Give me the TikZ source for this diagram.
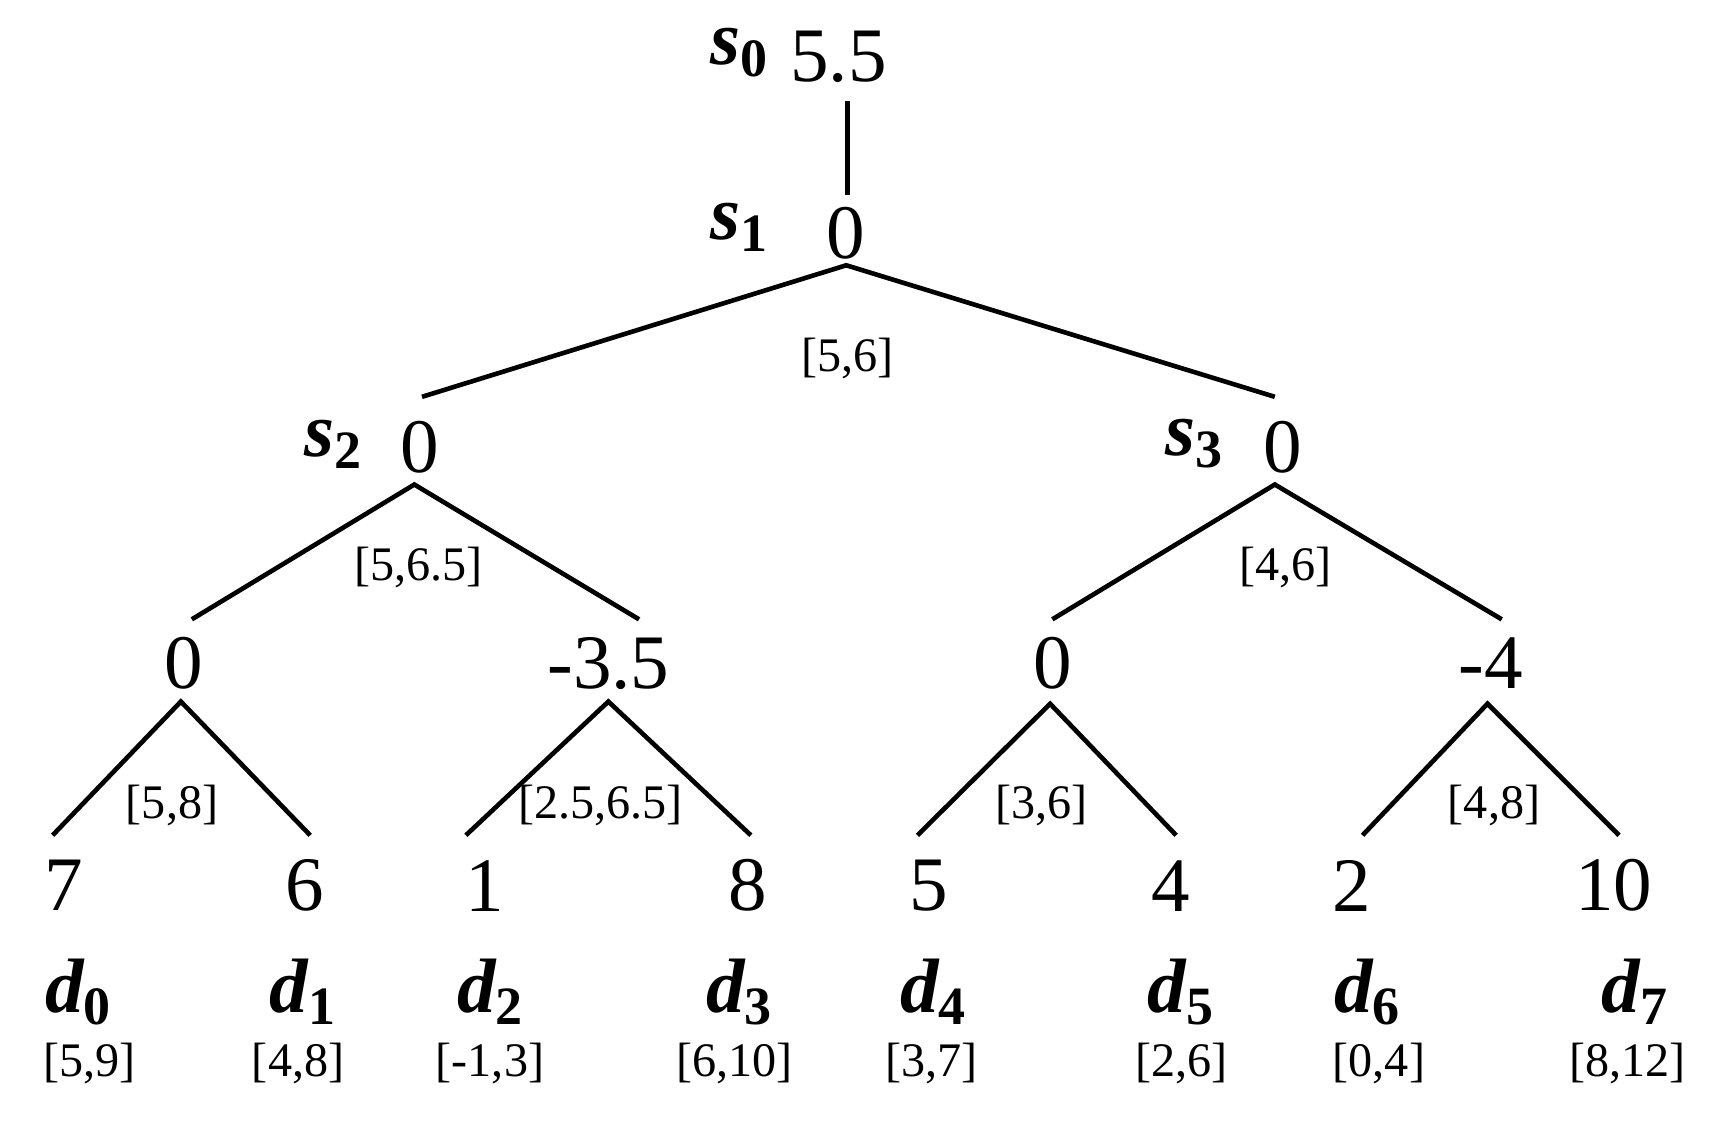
\documentclass[tikz,border=0pt]{standalone}
\usepackage{fontspec}
\setmainfont{Liberation Serif}
\begin{document}
\begin{tikzpicture}[x=0.01cm,y=-0.01cm,
  big/.style={inner sep=0pt,font=\fontsize{20}{22}\selectfont},
  lab/.style={inner sep=0pt,font=\fontsize{20}{22}\selectfont\bfseries\itshape},
  iv/.style={inner sep=0pt,font=\fontsize{12.5}{14}\selectfont},
  ln/.style={line width=1.2pt}]
\useasboundingbox (0,0) rectangle (1560,1026);
% root
\node[lab] (ls0) at (675,48) {s$_{\mathbf 0}$};
\node[big] (n0) at (765,52) {5.5};
\coordinate (a0) at (773,92); \coordinate (a1) at (773,178);
\draw[ln] (a0) -- (a1);
\node[lab] (ls1) at (675,207) {s$_{\mathbf 1}$};
\node[big] (n1) at (772,213) {0};
\coordinate (t1) at (772,242);
\coordinate (e2) at (385,362); \coordinate (e3) at (1163,362);
\draw[ln] (e2) -- (t1) -- (e3);
\node[iv] (i1) at (773,327) {[5,6]};
% level 2
\node[lab] (ls2) at (305,405) {s$_{\mathbf 2}$};
\node[big] (n2) at (383,408) {0};
\node[lab] (ls3) at (1090,405) {s$_{\mathbf 3}$};
\node[big] (n3) at (1170,408) {0};
\coordinate (t2) at (378,442); \coordinate (e4) at (175,565); \coordinate (e5) at (583,565);
\draw[ln] (e4) -- (t2) -- (e5);
\node[iv] (i2) at (382,518) {[5,6.5]};
\coordinate (t3) at (1163,442); \coordinate (e6) at (960,565); \coordinate (e7) at (1370,565);
\draw[ln] (e6) -- (t3) -- (e7);
\node[iv] (i3) at (1173,518) {[4,6]};
% level 3
\node[big] (n4) at (168,605) {0};
\node[big] (n5) at (555,605) {-3.5};
\node[big] (n6) at (960,605) {0};
\node[big] (n7) at (1360,605) {-4};
\coordinate (t4) at (165,640); \coordinate (f0) at (48,762); \coordinate (f1) at (283,762);
\draw[ln] (f0) -- (t4) -- (f1);
\node[iv] (i4) at (157,735) {[5,8]};
\coordinate (t5) at (555,640); \coordinate (f2) at (425,762); \coordinate (f3) at (685,762);
\draw[ln] (f2) -- (t5) -- (f3);
\node[iv] (i5) at (548,735) {[2.5,6.5]};
\coordinate (t6) at (958,642); \coordinate (f4) at (837,762); \coordinate (f5) at (1073,762);
\draw[ln] (f4) -- (t6) -- (f5);
\node[iv] (i6) at (950,735) {[3,6]};
\coordinate (t7) at (1357,642); \coordinate (f6) at (1243,762); \coordinate (f7) at (1477,762);
\draw[ln] (f6) -- (t7) -- (f7);
\node[iv] (i7) at (1363,735) {[4,8]};
% leaves
\foreach \x/\v/\dx/\intv/\ix [count=\k from 0] in
 {58/7/72/{[5,9]}/82, 278/6/277/{[4,8]}/272, 442/1/448/{[-1,3]}/447, 682/8/675/{[6,10]}/670,
  847/5/852/{[3,7]}/850, 1068/4/1078/{[2,6]}/1078, 1233/2/1248/{[0,4]}/1258, 1472/10/1492/{[8,12]}/1485}{
  \node[big] (v\k) at (\x,808) {\v};
  \node[lab] (d\k) at (\dx,905) {d$_{\mathbf{\k}}$};
  \node[iv] (j\k) at (\ix,970) {\intv};
}
\end{tikzpicture}
\end{document}
